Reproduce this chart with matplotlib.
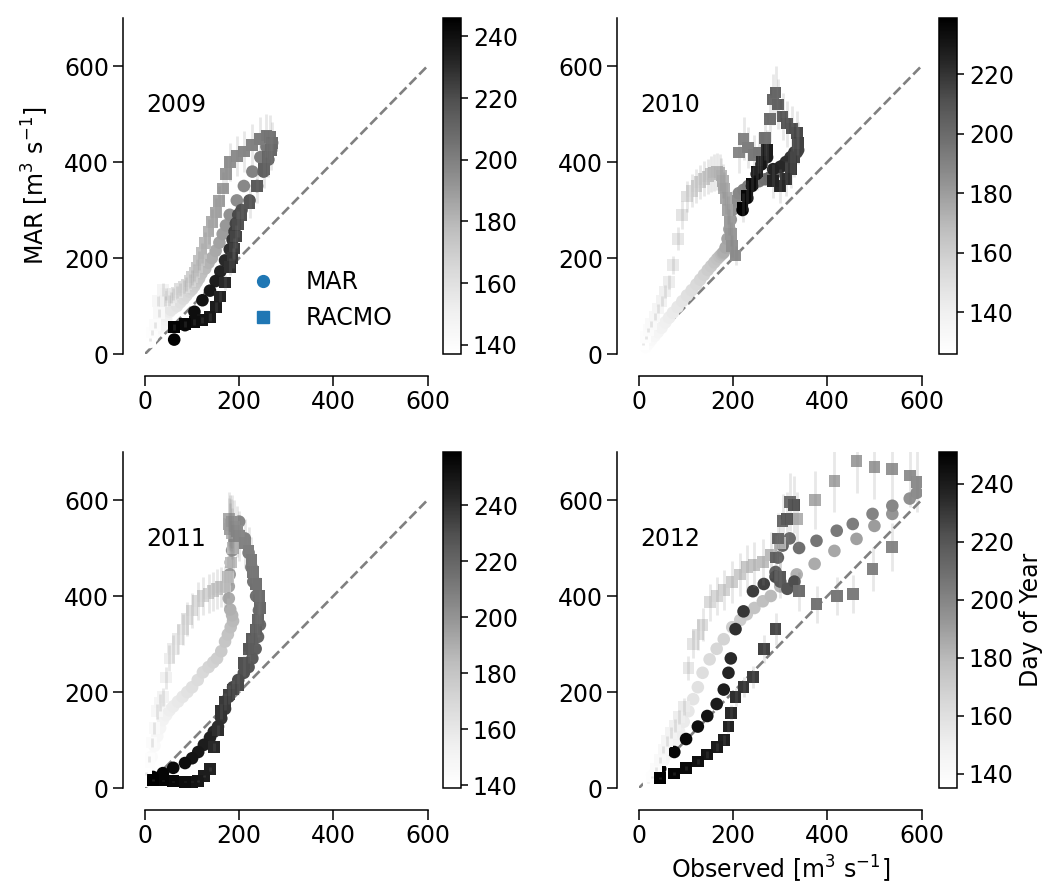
import matplotlib
matplotlib.use("Agg")
import matplotlib.pyplot as plt
import numpy as np
from matplotlib.colors import Normalize
from matplotlib.lines import Line2D

# ---- data (every second day) ----
YEARS = ["2009", "2010", "2011", "2012"]

# colour-scale limits (day of year) of each season
doy_span_2009 = (137, 246)
doy_span_2010 = (126, 239)
doy_span_2011 = (139, 259)
doy_span_2012 = (135, 251)

doy_2009 = np.arange(137, 246, 2)
doy_2010 = np.arange(126, 239, 2)
doy_2011 = np.arange(139, 260, 2)
doy_2012 = np.arange(135, 252, 2)

obs_2009 = [10, 15, 22, 30, 28, 38, 45, 42, 52, 60, 55, 68, 75, 82, 88, 95, 100, 105,
            110, 115, 120, 128, 135, 142, 150, 158, 165, 172,
            180, 195, 210, 228, 245, 258,
            266, 270, 268, 262,
            252, 238, 222, 205,
            198, 193, 190, 186, 180, 170, 160, 150, 138, 122, 105, 85, 62]
mar_2009 = [25, 35, 45, 55, 62, 60, 72, 80, 88, 95, 92, 100, 108, 115, 122, 130, 135, 142,
            150, 158, 168, 178, 190, 200, 215, 232, 250, 268,
            290, 320, 350, 380, 410, 432,
            445, 440, 425, 405,
            380, 350, 320, 300,
            290, 272, 255, 238, 218, 195, 172, 152, 132, 112, 88, 60, 30]
racmo_2009 = [30, 45, 60, 85, 110, 134, 125, 110, 112, 125, 118, 128, 135, 140, 145, 152, 160, 170,
              180, 195, 210, 232, 255, 275, 295, 318, 345, 375,
              400, 412, 422, 435, 448, 455,
              452, 440, 425, 410,
              385, 350, 315, 290,
              270, 245, 220, 200, 182, 149, 120, 98, 77, 71, 67, 63, 56]

obs_2010 = [8, 14, 20, 26, 33, 40, 48, 56, 64, 72, 82, 92, 102,
            112, 122, 130, 138, 146, 153, 160, 166, 171, 175, 178, 180,
            184, 188, 192, 195, 198, 205,
            212, 222, 232, 245, 255,
            268, 278, 285, 290, 296, 305, 315, 325, 335,
            338, 330, 322, 312, 300, 285,
            272, 260, 250, 240, 230, 220]
mar_2010 = [8, 15, 22, 30, 38, 46, 55, 66, 76, 86, 98, 110, 122,
            133, 145, 155, 165, 175, 183, 191, 198, 203, 207, 210, 212,
            222, 240, 260, 280, 300, 320,
            335, 342, 350, 356, 360,
            364, 368, 372, 378, 385, 392, 400, 410, 420,
            425, 420, 410, 400, 390, 385,
            410, 395, 375, 350, 325, 300]
racmo_2010 = [20, 35, 50, 62, 78, 95, 110, 130, 150, 185, 240, 290, 328,
              340, 350, 358, 365, 370, 375, 378, 380, 378, 372, 360, 345,
              325, 300, 275, 250, 225, 205,
              420, 448, 430, 415, 420,
              450, 490, 530, 545, 520, 495, 480, 470, 460,
              440, 410, 385, 365, 350, 360,
              425, 400, 380, 355, 330, 305]

obs_2011 = [3, 8, 14, 20, 26, 32, 38, 45, 52, 60, 70, 80, 90, 100, 112, 123,
            135, 145, 153, 162, 170, 176, 182, 187, 185, 181,
            178, 178, 180, 182, 185, 190, 196, 200,
            212, 220, 226, 230, 236, 242, 244, 240, 235, 228, 220, 210,
            198, 187, 178, 170, 162, 155, 146,
            138, 125, 113, 100, 85, 60, 38, 17]
mar_2011 = [15, 40, 65, 88, 108, 125, 142, 152, 162, 170, 180, 190, 200, 210, 225, 241,
            252, 262, 270, 285, 305, 320, 335, 348, 360, 372,
            395, 420, 445, 470, 495, 515, 535, 555,
            520, 490, 460, 430, 400, 370, 340, 315, 290, 270, 252, 240,
            225, 210, 190, 165, 145, 128, 117,
            105, 90, 75, 62, 52, 42, 31, 23]
racmo_2011 = [30, 60, 95, 125, 160, 178, 190, 230, 270, 290, 310, 330, 352, 370, 390, 400,
              405, 410, 414, 418, 420, 440, 470, 500, 530, 555,
              560, 550, 540, 548, 555, 545, 535, 525,
              510, 495, 475, 450, 425, 400, 375, 350, 330, 310, 290, 260,
              215, 205, 195, 180, 160, 120, 86,
              40, 25, 15, 13, 13, 14, 16, 17]

obs_2012 = [20, 28, 36, 44, 52, 60, 68, 76, 85, 95, 105, 115, 125, 135,
            150, 165, 180, 198, 215, 229, 245, 263, 280,
            300, 335, 373, 415, 462, 500, 538, 575, 590, 538, 496,
            454, 420, 377,
            340, 320, 305, 295, 290, 300, 315, 330,
            290, 265, 242, 222, 205, 195, 190, 180, 165, 145, 125, 100, 75, 45]
mar_2012 = [15, 25, 35, 45, 58, 70, 85, 100, 118, 138, 160, 185, 210, 240,
            268, 290, 310, 335, 350, 362, 375, 389, 400,
            420, 445, 467, 494, 519, 546, 571, 603, 615, 588, 571,
            550, 536, 515,
            500, 520, 505, 480, 450, 430, 415, 430,
            440, 425, 410, 368, 331, 270, 240, 205, 175, 150, 128, 102, 75, 40]
racmo_2012 = [12, 22, 40, 58, 80, 98, 115, 130, 148, 170, 250, 300, 320, 340,
              387, 400, 412, 429, 445, 460, 465, 471, 485,
              510, 560, 600, 640, 682, 669, 665, 651, 638, 502, 456,
              404, 400, 383,
              410, 596, 556, 520, 480, 440, 560, 590,
              331, 289, 232, 211, 190, 157, 128, 100, 86, 70, 55, 42, 30, 21]

RACMO_ERR_FRAC = 0.10   # relative uncertainty drawn as vertical bars
AX_TICKS = [0, 200, 400, 600]
UNITS = r"[m$^3$ s$^{-1}$]"

plt.rcParams["font.family"] = ["DejaVu Sans"]
plt.rcParams["mathtext.default"] = "regular"
FS = 17

W, H = 1054, 890
fig = plt.figure(figsize=(W / 100, H / 100), dpi=100)

# pixel layout: axes x-origin, axes bottom (y=0), colorbar left
ax_left = [145, 639, 145, 639]
ax_bottom = [354, 354, 788, 788]
cb_left = [443, 939, 443, 939]
ax_w, ax_h, cb_w = 282.5, 336, 18

panels = [
    (doy_2009, doy_span_2009, obs_2009, mar_2009, racmo_2009),
    (doy_2010, doy_span_2010, obs_2010, mar_2010, racmo_2010),
    (doy_2011, doy_span_2011, obs_2011, mar_2011, racmo_2011),
    (doy_2012, doy_span_2012, obs_2012, mar_2012, racmo_2012),
]

for k, (doy, span, obs, mar, rac) in enumerate(panels):
    for arr in (obs, mar, rac):
        assert len(arr) == len(doy), (YEARS[k], len(arr), len(doy))
    ax = fig.add_axes([ax_left[k] / W, 1 - ax_bottom[k] / H, ax_w / W, ax_h / H])
    cax = fig.add_axes([cb_left[k] / W, 1 - ax_bottom[k] / H, cb_w / W, ax_h / H])
    norm = Normalize(*span)
    obs = np.asarray(obs, float)
    rac = np.asarray(rac, float)

    ax.plot([0, 600], [0, 600], ls="--", color="grey", lw=1.9, zorder=1)
    sc = ax.scatter(obs, mar, c=doy, cmap="Greys", norm=norm, marker="o",
                    s=82, linewidths=0, zorder=2)
    ax.scatter(obs, rac, c=doy, cmap="Greys", norm=norm, marker="s",
               s=72, linewidths=0, zorder=3)
    ax.errorbar(obs, rac, yerr=RACMO_ERR_FRAC * rac, fmt="none",
                ecolor="0.5", elinewidth=2, alpha=0.18, zorder=4)

    ax.set_xlim(0, 600)
    ax.set_ylim(0, 700)
    ax.set_xticks(AX_TICKS)
    ax.set_yticks(AX_TICKS)
    for side in ("top", "right"):
        ax.spines[side].set_visible(False)
    for side in ("left", "bottom"):
        ax.spines[side].set_position(("outward", 15.5))
        ax.spines[side].set_linewidth(1.1)
    ax.tick_params(labelsize=FS, length=7, width=1.1)
    ax.text(0.005, 0.74, YEARS[k], transform=ax.transAxes, fontsize=FS,
            va="center", ha="left")

    cb = fig.colorbar(sc, cax=cax)
    cb.outline.set_linewidth(1.1)
    cb.ax.tick_params(labelsize=FS, length=5, width=1.1)

    if k == 0:
        ax.set_ylabel("MAR " + UNITS, fontsize=FS, labelpad=9)
        handles = [Line2D([], [], marker="o", ls="", color="#1f77b4", markersize=8.5),
                   Line2D([], [], marker="s", ls="", color="#1f77b4", markersize=8)]
        ax.legend(handles, ["MAR", "RACMO"], frameon=False, fontsize=FS,
                  loc="center left", bbox_to_anchor=(0.30, 0.16), borderaxespad=0)
    if k == 3:
        ax.set_xlabel("Observed " + UNITS, fontsize=FS)
        cb.set_label("Day of Year", fontsize=FS)

fig.savefig("out.png", dpi=100)
